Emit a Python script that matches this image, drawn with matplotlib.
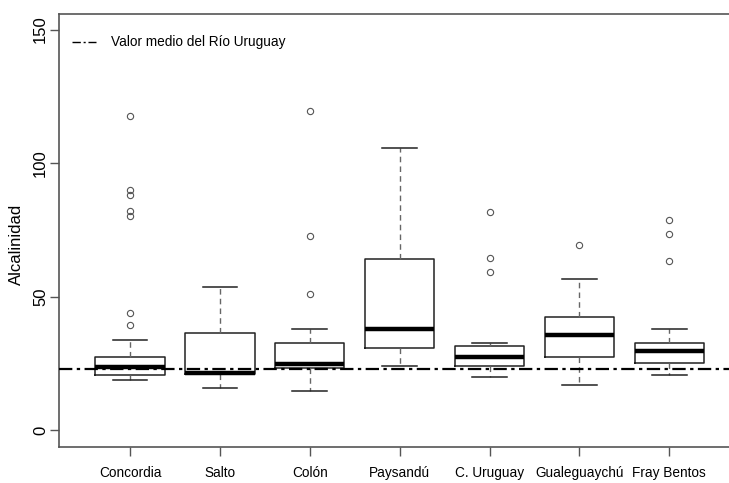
import matplotlib
matplotlib.use('Agg')
import matplotlib.pyplot as plt

# Alcalinidad por sitio
sites = ['Concordia', 'Salto', 'Colón', 'Paysandú', 'C. Uruguay', 'Gualeguaychú', 'Fray Bentos']
whislo = [18.7, 15.8, 14.6, 23.9, 19.8, 16.8, 20.8]
q1 = [20.8, 21.0, 23.3, 30.9, 23.9, 27.4, 25.2]
med = [23.5, 21.5, 24.7, 37.8, 27.2, 35.5, 29.8]
q3 = [27.2, 36.4, 32.5, 64.0, 31.5, 42.3, 32.5]
whishi = [33.7, 53.6, 37.8, 105.6, 32.5, 56.6, 37.8]
fliers = [
    [117.6, 90.0, 87.9, 82.0, 80.1, 43.7, 39.5],
    [],
    [119.5, 72.7, 50.8],
    [],
    [81.6, 64.5, 59.2],
    [69.2],
    [78.6, 73.6, 63.5],
]
rio_uruguay_mean = 22.8

font = 'Liberation Sans'

stats = []
for i in range(len(sites)):
    stats.append({'whislo': whislo[i], 'q1': q1[i], 'med': med[i], 'q3': q3[i],
                  'whishi': whishi[i], 'fliers': fliers[i]})

fig = plt.figure(figsize=(7.29, 4.83), dpi=100)
ax = fig.add_axes([59.3 / 729, 36.3 / 483, (740 - 59.3) / 729, 432.4 / 483])

pos = list(range(1, len(sites) + 1))
ax.bxp(stats, positions=pos, widths=0.77, capwidths=0.385, showfliers=True,
       boxprops=dict(color='#222222', linewidth=1.1),
       whiskerprops=dict(color='#666666', linewidth=1.0, linestyle=(0, (4, 3))),
       capprops=dict(color='#222222', linewidth=1.1),
       medianprops=dict(color='black', linewidth=3.2),
       flierprops=dict(marker='o', markersize=4.5, markerfacecolor='none',
                       markeredgecolor='#555555', markeredgewidth=0.8))

ax.axhline(rio_uruguay_mean, color='black', linewidth=1.6, linestyle=(0, (6, 2, 1.5, 2)),
           label='Valor medio del Río Uruguay', zorder=5)

ax.set_xlim(0.213, 7.787)
ax.set_ylim(-6.2, 155.7)
ax.set_yticks([0, 50, 100, 150])
ax.set_yticklabels(['0', '50', '100', '150'], rotation=90, va='center', family=font, fontsize=12)
ax.set_xticks(pos)
ax.set_xticklabels(sites, family=font, fontsize=9.8)
ax.tick_params(axis='x', length=6.5, width=1, color='#555555', pad=7.5)
ax.tick_params(axis='y', length=6.5, width=1, color='#555555', pad=1.5)
ax.set_ylabel('Alcalinidad', family=font, fontsize=12)
ax.yaxis.set_label_coords(-0.052, (446.7 - 244) / 432.4)
for s in ax.spines.values():
    s.set_color('#555555')
    s.set_linewidth(1.2)

leg = ax.legend(loc='center left', frameon=False, handlelength=1.75, handletextpad=1.1,
                bbox_to_anchor=(12.7 / 680.7, (432.4 - 28) / 432.4), borderaxespad=0,
                borderpad=0, prop={'family': font, 'size': 9.8})
for line in leg.get_lines():
    line.set_linewidth(1.0)

plt.savefig('out.png', dpi=100)
